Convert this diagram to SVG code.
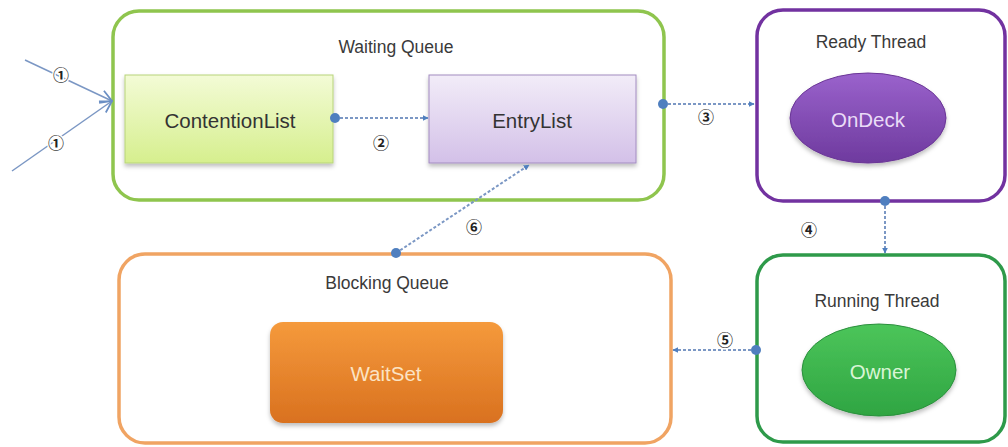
<svg xmlns="http://www.w3.org/2000/svg" width="1008" height="447" viewBox="0 0 1008 447">
<style>
.lbl{font-family:"Liberation Sans","DejaVu Sans",sans-serif;font-size:17.5px;fill:#3a3a3a;text-anchor:middle}
.node{font-family:"Liberation Sans","DejaVu Sans",sans-serif;font-size:20.5px;text-anchor:middle}
.num{font-family:"Noto Sans CJK SC","DejaVu Sans",sans-serif;font-size:16px;font-weight:bold;fill:#222;text-anchor:middle}
.halo{stroke:#fff;stroke-width:3;paint-order:stroke}
.dash{stroke:#7b97c4;stroke-width:2;stroke-dasharray:3 2;fill:none}
.solid{stroke:#7b97c4;stroke-width:1.5;fill:none}
.dot{fill:#4f7fbf}
</style>
<defs>
<marker id="tri" viewBox="0 0 10 10" refX="9" refY="5" markerWidth="6" markerHeight="6" orient="auto" markerUnits="userSpaceOnUse">
<path d="M0,0 L10,5 L0,10 z" fill="#4f7fbf"/>
</marker>
<marker id="open" viewBox="0 0 12 12" refX="11" refY="6" markerWidth="14" markerHeight="14" orient="auto" markerUnits="userSpaceOnUse">
<path d="M1,1 L11,6 L1,11" fill="none" stroke="#6b8fc4" stroke-width="1.5"/>
</marker>
<linearGradient id="gYel" x1="0" y1="0" x2="0" y2="1"><stop offset="0" stop-color="#f3fbd6"/><stop offset="1" stop-color="#d6ef8e"/></linearGradient>
<linearGradient id="gLav" x1="0" y1="0" x2="0" y2="1"><stop offset="0" stop-color="#f2ecf8"/><stop offset="1" stop-color="#d3c0e8"/></linearGradient>
<linearGradient id="gPur" x1="0" y1="0" x2="0" y2="1"><stop offset="0" stop-color="#9a62cc"/><stop offset="1" stop-color="#6e3a9e"/></linearGradient>
<linearGradient id="gGrn" x1="0" y1="0" x2="0" y2="1"><stop offset="0" stop-color="#4cc55a"/><stop offset="1" stop-color="#2fa542"/></linearGradient>
<linearGradient id="gOrg" x1="0" y1="0" x2="0" y2="1"><stop offset="0" stop-color="#f59a3c"/><stop offset="1" stop-color="#d9711f"/></linearGradient>
<filter id="sh" x="-10%" y="-10%" width="120%" height="130%"><feDropShadow dx="0" dy="3" stdDeviation="2" flood-color="#000" flood-opacity="0.25"/></filter>
</defs>

<g id="waiting-queue">
<rect x="113" y="11" width="551" height="189" rx="26" fill="#fff" stroke="#8fc54e" stroke-width="3.5"/>
<text class="lbl" x="396" y="53">Waiting Queue</text>
</g>
<g id="contention-list">
<rect x="125" y="75" width="208" height="88" fill="url(#gYel)" stroke="#b8d47a" stroke-width="1" filter="url(#sh)"/>
<text class="node" x="230" y="128" fill="#333">ContentionList</text>
</g>
<g id="entry-list">
<rect x="429" y="75" width="207" height="88" fill="url(#gLav)" stroke="#a28cc0" stroke-width="1" filter="url(#sh)"/>
<text class="node" x="532" y="128" fill="#333">EntryList</text>
</g>
<g id="ready-thread">
<rect x="757" y="10" width="248" height="191" rx="26" fill="#fff" stroke="#7232a0" stroke-width="3.5"/>
<text class="lbl" x="871" y="48">Ready Thread</text>
</g>
<g id="ondeck">
<ellipse cx="868" cy="118" rx="78" ry="45" fill="url(#gPur)" stroke="#6a3596" stroke-width="1" filter="url(#sh)"/>
<text class="node" x="868" y="127" fill="#eadcf7">OnDeck</text>
</g>
<g id="running-thread">
<rect x="757" y="255" width="248" height="187" rx="26" fill="#fff" stroke="#2e9a4a" stroke-width="3.5"/>
<text class="lbl" x="877" y="307">Running Thread</text>
</g>
<g id="owner">
<ellipse cx="879" cy="370" rx="77" ry="46" fill="url(#gGrn)" stroke="#2a8f3c" stroke-width="1" filter="url(#sh)"/>
<text class="node" x="880" y="379" fill="#d9f5d6">Owner</text>
</g>
<g id="blocking-queue">
<rect x="119" y="254" width="552" height="189" rx="26" fill="#fff" stroke="#f0a463" stroke-width="3.5"/>
<text class="lbl" x="387" y="289">Blocking Queue</text>
</g>
<g id="waitset">
<rect x="270" y="322" width="233" height="101" rx="13" fill="url(#gOrg)" filter="url(#sh)"/>
<text class="node" x="386" y="381" fill="#fbe3c4">WaitSet</text>
</g>

<g id="connectors">
<line class="solid" x1="25" y1="60" x2="112" y2="101" marker-end="url(#open)"/>
<line class="solid" x1="12" y1="171" x2="112" y2="101" marker-end="url(#open)"/>
<line class="dash" x1="335" y1="118" x2="428" y2="118" marker-end="url(#tri)"/>
<line class="dash" x1="663" y1="104" x2="754" y2="104" marker-end="url(#tri)"/>
<line class="dash" x1="885" y1="201" x2="885" y2="253" marker-end="url(#tri)"/>
<line class="dash" x1="756" y1="350" x2="673" y2="350" marker-end="url(#tri)"/>
<line class="dash" x1="396" y1="253" x2="529" y2="165" marker-end="url(#tri)"/>
<circle class="dot" cx="335" cy="118" r="5"/>
<circle class="dot" cx="663" cy="104" r="5"/>
<circle class="dot" cx="885" cy="201" r="5"/>
<circle class="dot" cx="756" cy="350" r="5"/>
<circle class="dot" cx="396" cy="253" r="5"/>
<text class="num halo" x="61" y="81">①</text>
<text class="num halo" x="56" y="149">①</text>
<text class="num" x="381" y="149">②</text>
<text class="num" x="706" y="123">③</text>
<text class="num" x="809" y="236">④</text>
<text class="num halo" x="725" y="346">⑤</text>
<text class="num" x="474" y="233">⑥</text>
</g>
</svg>
